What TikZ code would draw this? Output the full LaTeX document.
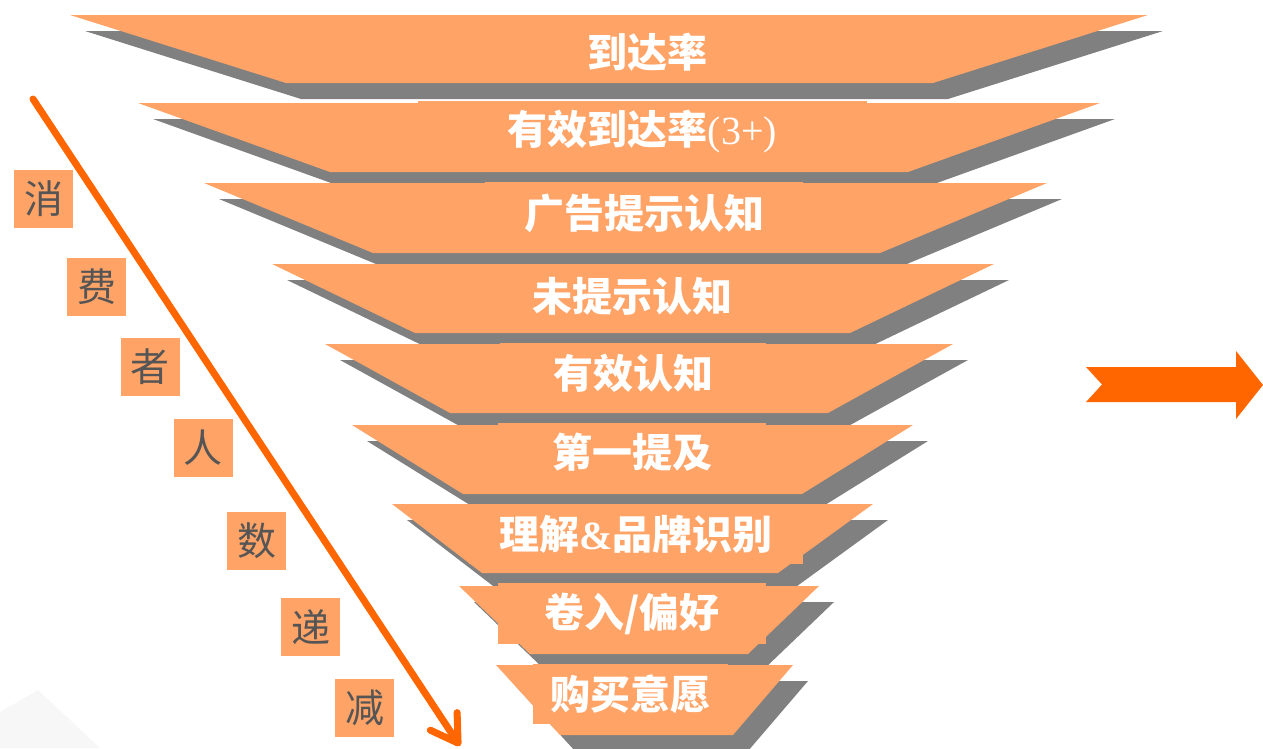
\documentclass[tikz,border=0pt]{standalone}
\usepackage{fontspec}
\usetikzlibrary{arrows.meta}
\newfontfamily\cjk{Noto Sans CJK SC}
\newfontfamily\serifl{Liberation Serif}
\definecolor{funnelorange}{RGB}{255,163,102}
\definecolor{shadowgray}{RGB}{128,128,128}
\definecolor{arrowor}{RGB}{255,102,0}
\definecolor{labelgray}{RGB}{85,85,85}
\definecolor{faintgray}{RGB}{247,247,247}
\tikzset{
  levelbox/.style={fill=funnelorange, text=white, inner sep=0pt,
    font=\cjk\bfseries\fontsize{40}{44}\selectfont, anchor=center},
  sidelabel/.style={fill=funnelorange, text=labelgray, inner sep=0pt,
    minimum width=59pt, minimum height=58pt,
    font=\cjk\fontsize{39}{42}\selectfont},
}
% #1 top y, #2 top left x, #3 top right x, #4 bottom y, #5 bottom left x, #6 bottom right x
\newcommand\funtrap[6]{%
  \fill[shadowgray] (#2+15,#1+16) -- (#3+15,#1+16) -- (#6+15,#4+16) -- (#5+15,#4+16) -- cycle;
  \fill[funnelorange] (#2,#1) -- (#3,#1) -- (#6,#4) -- (#5,#4) -- cycle;
}
\begin{document}
\begin{tikzpicture}[x=1pt,y=-1pt]
\useasboundingbox (0,0) rectangle (1263,748);
\fill[faintgray] (0,712) -- (38,690) -- (100,748) -- (0,748) -- cycle;

% level 1
\funtrap{15}{70}{1148}{83}{286}{933}
\node[levelbox, minimum width=300pt, minimum height=60pt] (t1) at (647,52) {到达率};
% level 2
\funtrap{103}{138}{1100}{172}{330}{908}
\node[levelbox, minimum width=449pt, minimum height=62pt] (t2) at (642.5,132) {有效到达率{\serifl\mdseries (3+)}};
% level 3
\funtrap{183}{204}{1047}{253}{373}{880}
\node[levelbox, minimum width=318pt, minimum height=62pt] (t3) at (644,213) {广告提示认知};
% level 4
\funtrap{264}{272}{994}{333}{415}{850}
\node[levelbox, minimum width=290pt, minimum height=58pt] (t4) at (632,296) {未提示认知};
% level 5
\funtrap{344}{325}{953}{413}{450}{828}
\node[levelbox, minimum width=266pt, minimum height=61pt] (t5) at (633,373.5) {有效认知};
% level 6
\funtrap{425}{352}{913}{494}{463}{802}
\node[levelbox, minimum width=268pt, minimum height=59pt] (t6) at (632,452.5) {第一提及};
% level 7
\funtrap{504}{392}{873}{573}{482}{778}
\node[levelbox, minimum width=334pt, minimum height=60pt] (t7) at (636,534) {理解{\serifl\bfseries\&}品牌识别};
% level 8
\funtrap{586}{459}{819}{654}{530}{748}
\node[levelbox, minimum width=268pt, minimum height=61pt] (t8) at (632,613.5) {卷入/偏好};
% level 9
\funtrap{665}{496}{793}{735}{560}{733}
\node[levelbox, minimum width=195pt, minimum height=60pt] (t9) at (630.5,694) {购买意愿};

% side labels
\node[sidelabel] (l1) at (43.5,198.5) {消};
\node[sidelabel] (l2) at (96.5,287) {费};
\node[sidelabel] (l3) at (150,367) {者};
\node[sidelabel] (l4) at (203,448) {人};
\node[sidelabel] (l5) at (256.5,541) {数};
\node[sidelabel] (l6) at (310.5,627) {递};
\node[sidelabel] (l7) at (364.5,708) {减};

% diagonal arrow
\coordinate (as) at (33,99);
\coordinate (ae) at (460,746);
\draw[arrowor, line width=7pt, line cap=round,
  -{Straight Barb[length=26pt, width=32pt, round]}] (as) -- (ae);

% right arrow
\fill[arrowor] (1086,367) -- (1236,367) -- (1236,351) -- (1263,385) -- (1236,419)
  -- (1236,402) -- (1086,402) -- (1102,384.5) -- cycle;
\end{tikzpicture}
\end{document}
